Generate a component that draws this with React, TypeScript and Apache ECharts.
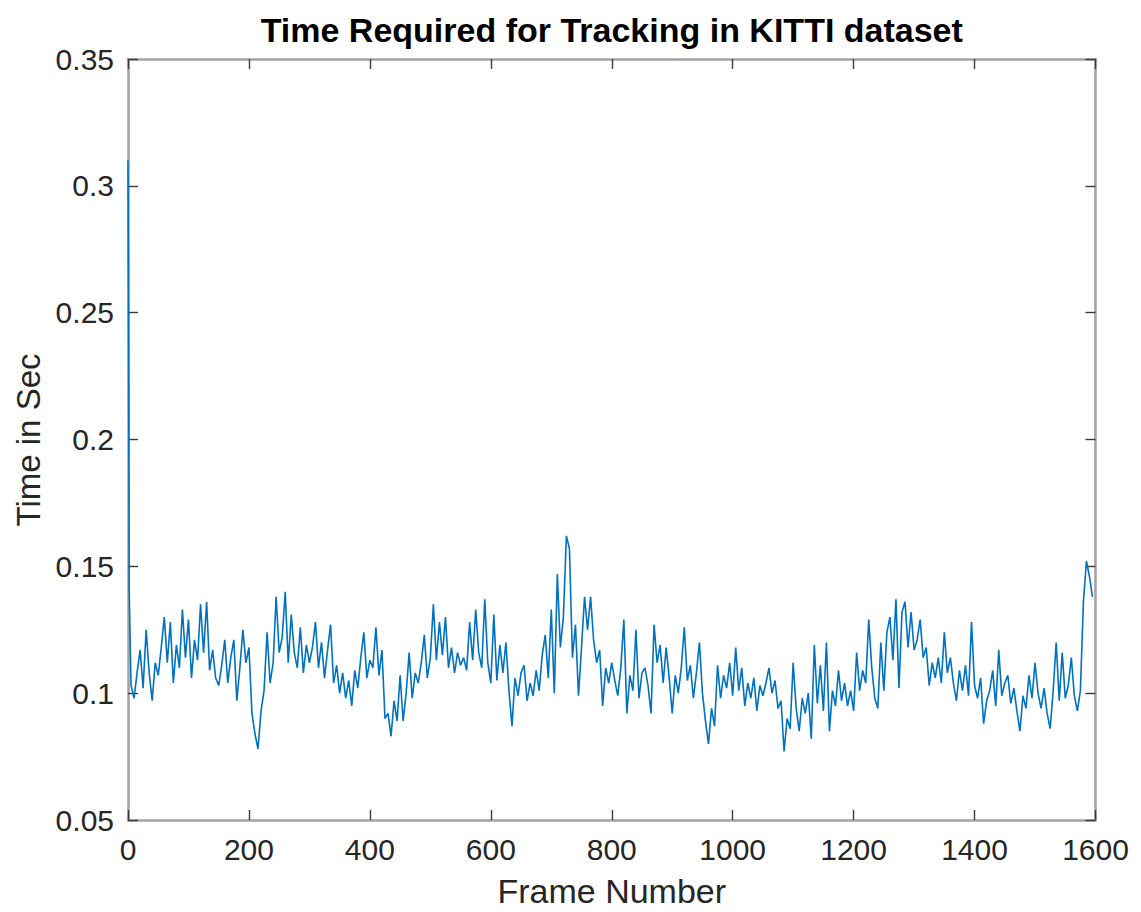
import React, { useEffect, useRef } from "react";
import * as echarts from "echarts";

// Start-up spike of the tracker (first frames)
const spikeFrames = [0, 1, 2];
const spikeTimes = [0.31, 0.24, 0.14];

// Tracking time per frame, sampled every 5 frames from frame 5 onwards
const SAMPLE_STEP = 5;
const trackTimes = [
  0.103, 0.098, 0.108, 0.117, 0.102, 0.125, 0.108, 0.097, 0.112, 0.107,
  0.118, 0.130, 0.112, 0.128, 0.104, 0.119, 0.110, 0.133, 0.114, 0.129,
  0.106, 0.121, 0.113, 0.135, 0.116, 0.136, 0.109, 0.117, 0.106, 0.103,
  0.111, 0.121, 0.104, 0.114, 0.121, 0.097, 0.110, 0.125, 0.112, 0.118,
  0.092, 0.084, 0.078, 0.093, 0.101, 0.124, 0.104, 0.112, 0.138, 0.116,
  0.122, 0.140, 0.112, 0.131, 0.116, 0.110, 0.126, 0.108, 0.119, 0.112,
  0.118, 0.128, 0.110, 0.120, 0.106, 0.117, 0.127, 0.104, 0.111, 0.100,
  0.108, 0.098, 0.105, 0.095, 0.109, 0.102, 0.114, 0.124, 0.106, 0.113,
  0.110, 0.126, 0.107, 0.117, 0.090, 0.092, 0.083, 0.097, 0.089, 0.107,
  0.089, 0.100, 0.116, 0.098, 0.108, 0.104, 0.112, 0.123, 0.106, 0.114,
  0.135, 0.113, 0.128, 0.115, 0.130, 0.110, 0.118, 0.108, 0.116, 0.111,
  0.114, 0.109, 0.128, 0.113, 0.133, 0.116, 0.110, 0.137, 0.112, 0.104,
  0.131, 0.105, 0.119, 0.108, 0.120, 0.101, 0.087, 0.106, 0.099, 0.108,
  0.111, 0.097, 0.104, 0.099, 0.109, 0.101, 0.115, 0.123, 0.106, 0.133,
  0.100, 0.147, 0.118, 0.130, 0.162, 0.157, 0.114, 0.127, 0.099, 0.118,
  0.138, 0.125, 0.138, 0.121, 0.112, 0.117, 0.095, 0.110, 0.104, 0.112,
  0.105, 0.099, 0.110, 0.129, 0.092, 0.107, 0.101, 0.125, 0.098, 0.108,
  0.110, 0.103, 0.092, 0.127, 0.112, 0.119, 0.104, 0.118, 0.106, 0.092,
  0.107, 0.100, 0.110, 0.126, 0.105, 0.111, 0.098, 0.108, 0.120, 0.100,
  0.089, 0.080, 0.094, 0.087, 0.111, 0.098, 0.107, 0.102, 0.112, 0.099,
  0.118, 0.101, 0.110, 0.095, 0.104, 0.098, 0.106, 0.093, 0.103, 0.099,
  0.104, 0.110, 0.100, 0.105, 0.094, 0.097, 0.077, 0.090, 0.086, 0.112,
  0.094, 0.085, 0.098, 0.092, 0.100, 0.082, 0.119, 0.096, 0.111, 0.093,
  0.120, 0.085, 0.101, 0.095, 0.109, 0.097, 0.104, 0.095, 0.101, 0.093,
  0.116, 0.101, 0.109, 0.104, 0.129, 0.110, 0.098, 0.094, 0.120, 0.101,
  0.124, 0.130, 0.113, 0.137, 0.102, 0.132, 0.136, 0.118, 0.132, 0.117,
  0.121, 0.129, 0.114, 0.118, 0.103, 0.112, 0.106, 0.114, 0.104, 0.124,
  0.108, 0.114, 0.104, 0.097, 0.109, 0.101, 0.111, 0.099, 0.128, 0.103,
  0.098, 0.106, 0.088, 0.097, 0.101, 0.109, 0.095, 0.117, 0.099, 0.104,
  0.107, 0.096, 0.102, 0.093, 0.085, 0.099, 0.094, 0.107, 0.098, 0.112,
  0.100, 0.094, 0.102, 0.092, 0.086, 0.101, 0.120, 0.097, 0.116, 0.098,
  0.103, 0.114, 0.099, 0.093, 0.101, 0.136, 0.152, 0.146, 0.138,
];

const xTicks = [0, 200, 400, 600, 800, 1000, 1200, 1400, 1600];
const yTicks = [0.05, 0.1, 0.15, 0.2, 0.25, 0.3, 0.35];

const titleText = "Time Required for Tracking in KITTI dataset";
const xName = "Frame Number";
const yName = "Time in Sec";

const FONT = "'Liberation Sans', Arial, Helvetica, sans-serif";
const FRAME_COLOR = "#a3a3a3";
const TICK_COLOR = "#3a3a3a";
const TEXT_COLOR = "#262626";
const LINE_COLOR = "#0072BD";

const GRID = { left: 128, right: 1141 - 1095.5, top: 59, bottom: 912 - 820 };
const PLOT_CENTER_X = (128 + 1095.5) / 2;

function fmt(v: number): string {
  return String(parseFloat(v.toFixed(2)));
}

export default function App() {
  const ref = useRef<HTMLDivElement>(null);

  useEffect(() => {
    if (!ref.current) return;
    const chart = echarts.init(ref.current, undefined, { renderer: "svg" });

    const points: [number, number][] = [];
    spikeFrames.forEach((f, i) => points.push([f, spikeTimes[i]]));
    trackTimes.forEach((t, i) => points.push([SAMPLE_STEP * (i + 1), t]));

    const frameAxis = {
      type: "value" as const,
      min: xTicks[0],
      max: xTicks[xTicks.length - 1],
      interval: 200,
      axisLine: { show: true, onZero: false, lineStyle: { color: FRAME_COLOR, width: 2.6 } },
      axisTick: { show: true, inside: true, length: 10, lineStyle: { color: TICK_COLOR, width: 1.4 } },
      splitLine: { show: false },
    };
    const timeAxis = {
      type: "value" as const,
      min: yTicks[0],
      max: yTicks[yTicks.length - 1],
      interval: 0.05,
      axisLine: { show: true, onZero: false, lineStyle: { color: FRAME_COLOR, width: 2.6 } },
      axisTick: { show: true, inside: true, length: 10, lineStyle: { color: TICK_COLOR, width: 1.4 } },
      splitLine: { show: false },
    };

    chart.setOption({
      animation: false,
      backgroundColor: "#ffffff",
      grid: { ...GRID, containLabel: false },
      xAxis: [
        {
          ...frameAxis,
          position: "bottom",
          axisLabel: {
            show: true,
            margin: 14,
            fontSize: 30,
            fontFamily: FONT,
            color: TEXT_COLOR,
            formatter: (v: number) => String(v),
          },
        },
        { ...frameAxis, position: "top", axisLabel: { show: false } },
      ],
      yAxis: [
        {
          ...timeAxis,
          position: "left",
          axisLabel: {
            show: true,
            margin: 14,
            fontSize: 30,
            fontFamily: FONT,
            color: TEXT_COLOR,
            formatter: (v: number) => fmt(v),
          },
        },
        { ...timeAxis, position: "right", axisLabel: { show: false } },
      ],
      series: [
        {
          type: "line",
          xAxisIndex: 0,
          yAxisIndex: 0,
          data: points,
          showSymbol: false,
          symbol: "none",
          lineStyle: { color: LINE_COLOR, width: 1.6 },
          z: 1,
        },
      ],
      graphic: [
        {
          type: "text",
          x: PLOT_CENTER_X,
          y: 30,
          style: {
            text: titleText,
            font: `bold 34px ${FONT}`,
            fill: "#000000",
            align: "center",
            verticalAlign: "middle",
          },
          z: 10,
        },
        {
          type: "text",
          x: PLOT_CENTER_X,
          y: 891,
          style: {
            text: xName,
            font: `34px ${FONT}`,
            fill: TEXT_COLOR,
            align: "center",
            verticalAlign: "middle",
          },
        },
        {
          type: "text",
          x: 28,
          y: 440,
          rotation: Math.PI / 2,
          style: {
            text: yName,
            font: `33px ${FONT}`,
            fill: TEXT_COLOR,
            align: "center",
            verticalAlign: "middle",
          },
        },
      ],
    });

    return () => chart.dispose();
  }, []);

  return (
    <div
      ref={ref}
      style={{ position: "fixed", left: 0, top: 0, width: 1141, height: 912, background: "#fff" }}
    />
  );
}
